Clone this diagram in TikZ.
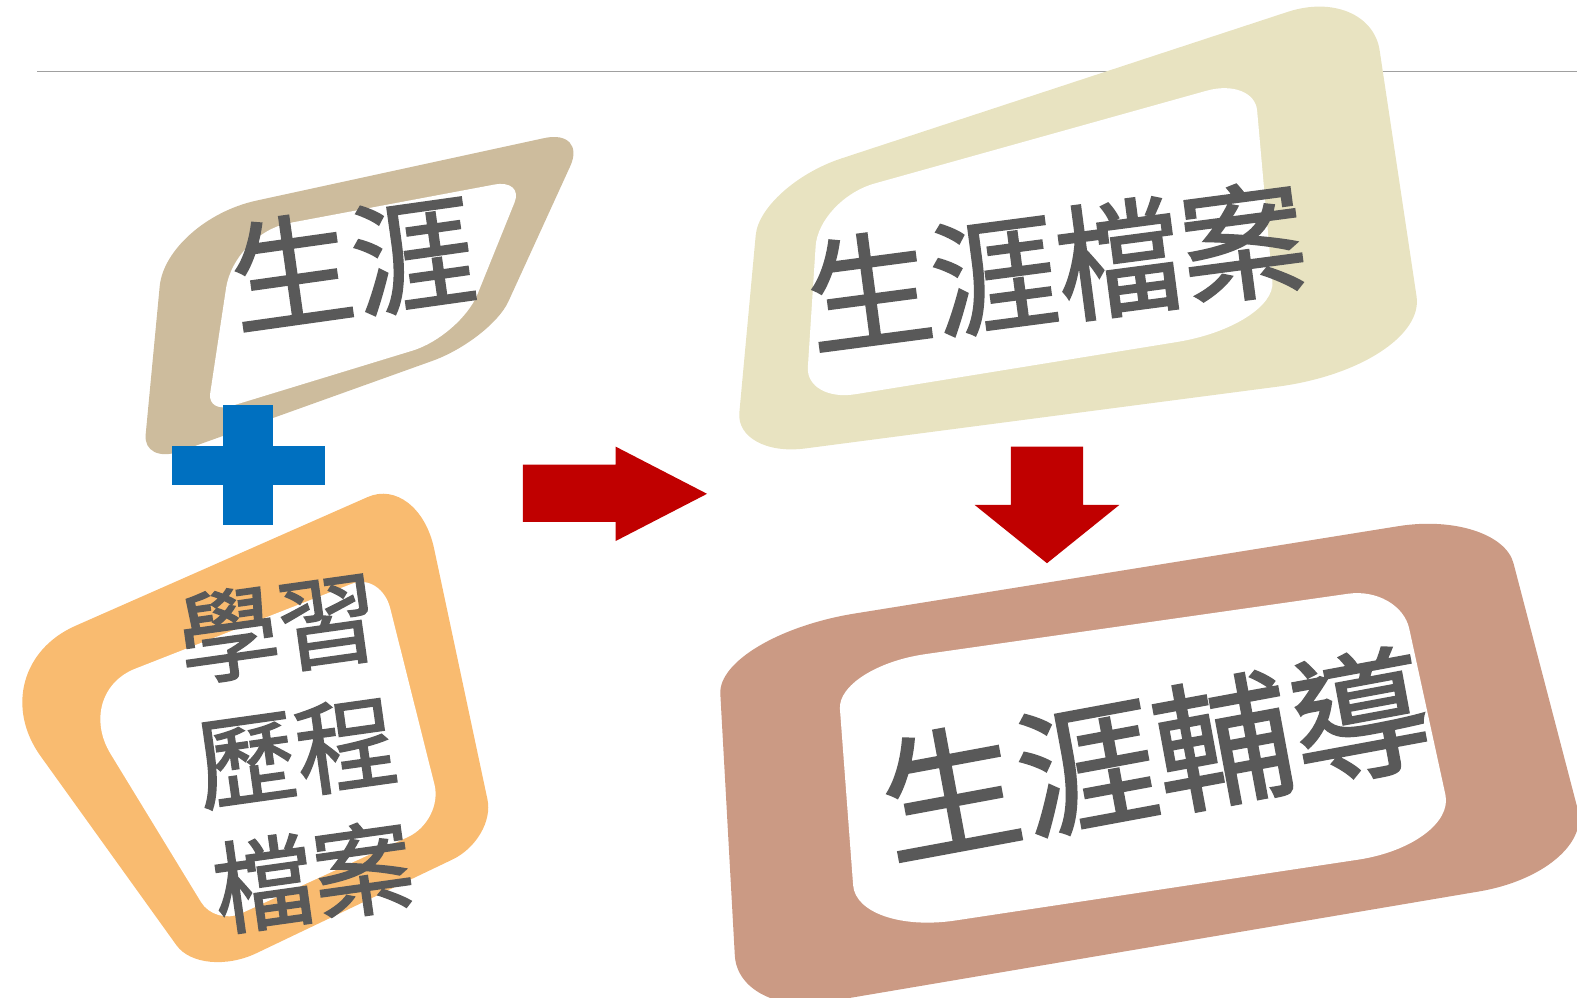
\documentclass[tikz,border=0pt]{standalone}
\usepackage{fontspec}
\usetikzlibrary{calc}
\newfontfamily\cjk[FakeBold=1.5]{Noto Sans CJK TC}
\definecolor{tanc}{RGB}{205,188,157}
\definecolor{orangec}{RGB}{249,187,112}
\definecolor{palec}{RGB}{232,227,193}
\definecolor{brownc}{RGB}{203,154,132}
\definecolor{textc}{RGB}{89,89,89}
\definecolor{bluec}{RGB}{0,112,192}
\definecolor{redc}{RGB}{192,0,0}
\definecolor{linec}{RGB}{160,160,160}
% rounded corner: #1 previous corner, #2 corner, #3 next corner, #4 distance in, #5 distance out
\newcommand\rcn[5]{-- ($(#2)!#4pt!(#1)$) .. controls ($(#2)!0.45*#4pt!(#1)$) and ($(#2)!0.45*#5pt!(#3)$) .. ($(#2)!#5pt!(#3)$)}
\tikzset{
  txt/.style={text=textc, inner sep=0pt},
}
\begin{document}
\begin{tikzpicture}[x=1pt,y=-1pt]
\useasboundingbox (0,0) rectangle (1568,992);
% top rule
\draw[linec, line width=1.3pt] (37,71) -- (1568,71);

% ---- shape 3 : 生涯檔案 ----
\coordinate (c1) at (756,184); \coordinate (c2) at (1362,-15);
\coordinate (c3) at (1419,365); \coordinate (c4) at (731,455);
\fill[palec] ($(c4)!0.5!(c1)$) \rcn{c4}{c1}{c2}{50}{85} \rcn{c1}{c2}{c3}{86}{66} \rcn{c2}{c3}{c4}{71}{150} \rcn{c3}{c4}{c1}{70}{45} -- cycle;
\coordinate (ci1) at (814,198); \coordinate (ci2) at (1247,77);
\coordinate (ci3) at (1269,324); \coordinate (ci4) at (801,400);
\fill[white] ($(ci4)!0.5!(ci1)$) \rcn{ci4}{ci1}{ci2}{47}{58} \rcn{ci1}{ci2}{ci3}{49}{33} \rcn{ci2}{ci3}{ci4}{44}{100} \rcn{ci3}{ci4}{ci1}{50}{35} -- cycle;

% ---- shape 1 : 生涯 ----
\coordinate (a1) at (165,219); \coordinate (a2) at (584,128);
\coordinate (a3) at (488,338); \coordinate (a4) at (142,462);
\fill[tanc] ($(a4)!0.5!(a1)$) \rcn{a4}{a1}{a2}{66}{92} \rcn{a1}{a2}{a3}{44}{41} \rcn{a2}{a3}{a4}{42}{62} \rcn{a3}{a4}{a1}{39}{30} -- cycle;
\coordinate (ai1) at (233,232); \coordinate (ai2) at (521,178);
\coordinate (ai3) at (458,334); \coordinate (ai4) at (206,411);
\fill[white] ($(ai4)!0.5!(ai1)$) \rcn{ai4}{ai1}{ai2}{55}{55} \rcn{ai1}{ai2}{ai3}{30}{25} \rcn{ai2}{ai3}{ai4}{45}{50} \rcn{ai3}{ai4}{ai1}{25}{20} -- cycle;

% ---- shape 2 : 學習歷程檔案 ----
\coordinate (b1) at (-22,665); \coordinate (b2) at (416,472);
\coordinate (b3) at (493,834); \coordinate (b4) at (200,974);
\fill[orangec] ($(b4)!0.5!(b1)$) \rcn{b4}{b1}{b2}{107}{106} \rcn{b1}{b2}{b3}{55}{75} \rcn{b2}{b3}{b4}{40}{48} \rcn{b3}{b4}{b1}{61}{42} -- cycle;
\coordinate (bi1) at (73,689); \coordinate (bi2) at (379,569);
\coordinate (bi3) at (441,816); \coordinate (bi4) at (214,920);
\fill[white] ($(bi4)!0.5!(bi1)$) \rcn{bi4}{bi1}{bi2}{71}{66} \rcn{bi1}{bi2}{bi3}{31}{37} \rcn{bi2}{bi3}{bi4}{37}{39} \rcn{bi3}{bi4}{bi1}{28}{27} -- cycle;

% ---- shape 4 : 生涯輔導 ----
\coordinate (d1) at (713,632); \coordinate (d2) at (1491,507);
\coordinate (d3) at (1585,867); \coordinate (d4) at (734,1011);
\fill[brownc] ($(d4)!0.5!(d1)$) \rcn{d4}{d1}{d2}{58}{139} \rcn{d1}{d2}{d3}{102}{55} \rcn{d2}{d3}{d4}{64}{116} \rcn{d3}{d4}{d1}{87}{61} -- cycle;
\coordinate (di1) at (832,663); \coordinate (di2) at (1392,583);
\coordinate (di3) at (1448,840); \coordinate (di4) at (852,930);
\fill[white] ($(di4)!0.5!(di1)$) \rcn{di4}{di1}{di2}{42}{89} \rcn{di1}{di2}{di3}{52}{43} \rcn{di2}{di3}{di4}{51}{99} \rcn{di3}{di4}{di1}{99}{50} -- cycle;

% plus sign
\fill[bluec] (222,403) rectangle (271,522);
\fill[bluec] (171,443) rectangle (323,482);

% arrows
\fill[redc] (520,462) -- (612,462) -- (612,444) -- (703,491) -- (612,538) -- (612,519) -- (520,519) -- cycle;
\fill[redc] (1005,444) -- (1077,444) -- (1077,502) -- (1113,502) -- (1041,560) -- (969,502) -- (1005,502) -- cycle;

% texts
\node[txt, rotate=8, font=\cjk\fontsize{122}{140}\selectfont] (t1) at (350,262) {生涯};
\node[txt, rotate=8, font=\cjk\fontsize{100}{125}\selectfont, align=center] (t2) at (294,748) {學習\\歷程\\檔案};
\node[txt, rotate=7.5, font=\cjk\fontsize{125}{140}\selectfont] (t3) at (1050,265) {生涯檔案};
\node[txt, rotate=10.5, font=\cjk\fontsize{138}{160}\selectfont] (t4) at (1148,750) {生涯輔導};
\end{tikzpicture}
\end{document}
